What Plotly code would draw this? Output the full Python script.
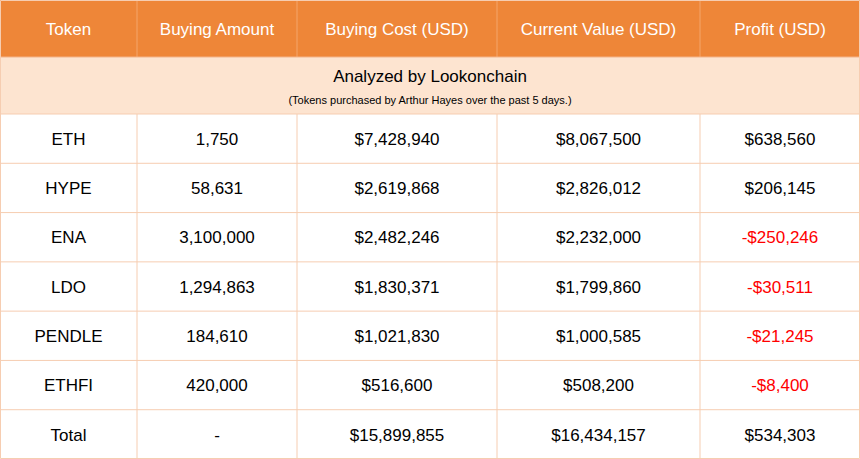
import plotly.graph_objects as go

columns = ["Token", "Buying Amount", "Buying Cost (USD)", "Current Value (USD)", "Profit (USD)"]
tokens = ["ETH", "HYPE", "ENA", "LDO", "PENDLE", "ETHFI", "Total"]
amounts = ["1,750", "58,631", "3,100,000", "1,294,863", "184,610", "420,000", "-"]
costs = ["$7,428,940", "$2,619,868", "$2,482,246", "$1,830,371", "$1,021,830", "$516,600", "$15,899,855"]
values = ["$8,067,500", "$2,826,012", "$2,232,000", "$1,799,860", "$1,000,585", "$508,200", "$16,434,157"]
profits = ["$638,560", "$206,145", "-$250,246", "-$30,511", "-$21,245", "-$8,400", "$534,303"]
title = "Analyzed by Lookonchain"
subtitle = "(Tokens purchased by Arthur Hayes over the past 5 days.)"

W, H = 860, 459
col_edges = [0, 137, 297, 497, 700, 860]
HEAD, SUB = 57, 57
ROW = (H - HEAD - SUB) / len(tokens)
FONT = "Liberation Sans, Arial"
DY = 2

orange = "#ee8638"
light = "#fde4d0"
line = "#f6cdb1"

centers = [(col_edges[i] + col_edges[i + 1]) / 2 for i in range(5)]
row_y = [HEAD + SUB + ROW * (j + 0.5) + DY for j in range(len(tokens))]

fig = go.Figure()
shapes = [
    dict(type="rect", x0=0, x1=W, y0=0, y1=HEAD, fillcolor=orange, line_width=0, layer="below"),
    dict(type="rect", x0=0, x1=W, y0=HEAD, y1=HEAD + SUB, fillcolor=light, line_width=0, layer="below"),
]
for e in col_edges[1:-1]:
    shapes.append(dict(type="line", x0=e, x1=e, y0=0, y1=HEAD, line=dict(color="#f4a56a", width=1)))
    shapes.append(dict(type="line", x0=e, x1=e, y0=HEAD + SUB, y1=H, line=dict(color=line, width=1)))
for j in range(len(tokens)):
    y = HEAD + SUB + ROW * j
    shapes.append(dict(type="line", x0=0, x1=W, y0=y, y1=y, line=dict(color=line, width=1)))
shapes.append(dict(type="line", x0=0, x1=W, y0=HEAD, y1=HEAD, line=dict(color="#f4b48a", width=1)))
shapes.append(dict(type="rect", x0=0.5, x1=W - 0.5, y0=0.5, y1=H - 0.5, line=dict(color=line, width=1)))

fig.add_trace(go.Scatter(x=centers, y=[HEAD / 2 + DY] * 5, text=columns, mode="text",
                         textfont=dict(family=FONT, size=17, color="white"), hoverinfo="skip"))
fig.add_trace(go.Scatter(x=[W / 2, W / 2], y=[HEAD + 21, HEAD + 44], text=[title, subtitle], mode="text",
                         textfont=dict(family=FONT, size=[17, 11], color="black"), hoverinfo="skip"))
for i, col in enumerate([tokens, amounts, costs, values, profits]):
    colors = ["red" if str(v).startswith("-$") else "black" for v in col]
    fig.add_trace(go.Scatter(x=[centers[i]] * len(col), y=row_y, text=col, mode="text",
                             textfont=dict(family=FONT, size=17, color=colors), hoverinfo="skip"))

fig.update_layout(width=W, height=H, margin=dict(l=0, r=0, t=0, b=0),
                  paper_bgcolor="white", plot_bgcolor="white", showlegend=False,
                  shapes=shapes,
                  xaxis=dict(range=[0, W], visible=False, fixedrange=True),
                  yaxis=dict(range=[H, 0], visible=False, fixedrange=True))
fig.write_html("out.html", config={"displayModeBar": False},
               post_script="document.body.style.margin='0';document.body.style.overflow='hidden';")
